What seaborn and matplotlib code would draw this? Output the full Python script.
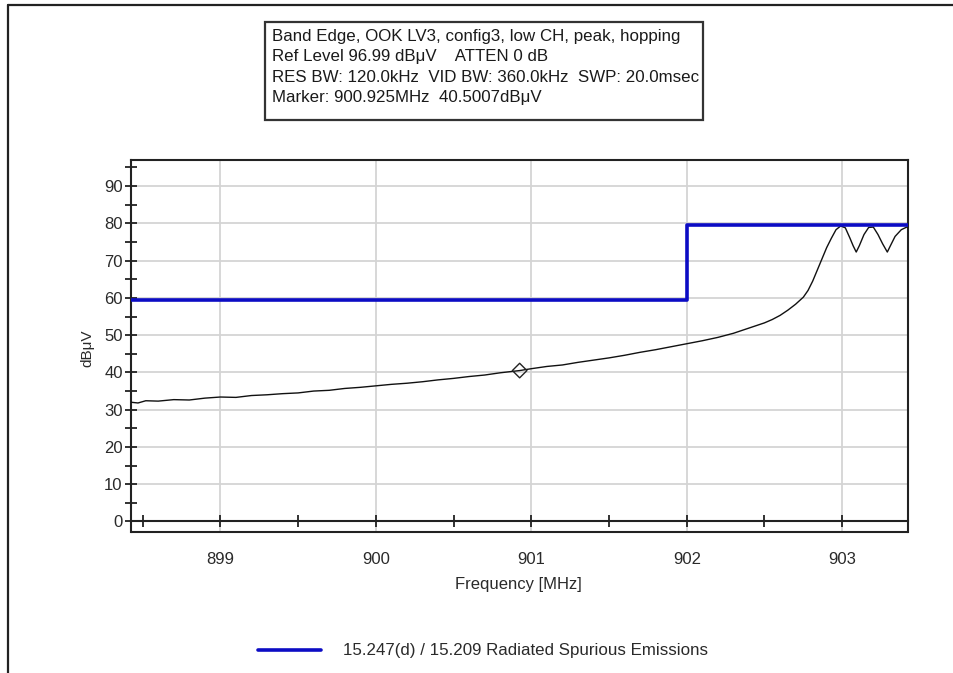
import matplotlib
matplotlib.use("Agg")
import matplotlib.pyplot as plt
import seaborn as sns
import pandas as pd
from matplotlib.ticker import MultipleLocator
from matplotlib.lines import Line2D
from matplotlib.patches import Rectangle

# ---------------- data ----------------
trace_freq = [898.425, 898.47, 898.52, 898.60, 898.70, 898.80, 898.90, 899.00, 899.10, 899.20,
              899.30, 899.40, 899.50, 899.60, 899.70, 899.80, 899.90, 900.00, 900.10, 900.20,
              900.30, 900.40, 900.50, 900.60, 900.70, 900.80, 900.925, 901.00, 901.10, 901.20,
              901.30, 901.40, 901.50, 901.60, 901.70, 901.80, 901.90, 902.00, 902.10, 902.20,
              902.30, 902.40, 902.50, 902.55, 902.60, 902.65, 902.70, 902.75, 902.78, 902.81,
              902.84, 902.87, 902.90, 902.93, 902.96, 902.99, 903.02, 903.05, 903.07, 903.09,
              903.11, 903.14, 903.17, 903.20, 903.23, 903.26, 903.29, 903.31, 903.34, 903.38,
              903.425]
trace_level = [32.0, 31.8, 32.4, 32.3, 32.7, 32.6, 33.1, 33.4, 33.3, 33.8,
               34.0, 34.3, 34.5, 35.0, 35.2, 35.7, 36.0, 36.4, 36.8, 37.1,
               37.5, 38.0, 38.4, 38.9, 39.3, 39.9, 40.5, 41.0, 41.6, 42.0,
               42.7, 43.3, 43.9, 44.6, 45.4, 46.1, 46.9, 47.7, 48.5, 49.4,
               50.5, 51.9, 53.3, 54.2, 55.3, 56.7, 58.3, 60.2, 62.0, 64.5,
               67.5, 70.5, 73.5, 76.0, 78.3, 79.3, 78.8, 76.0, 74.0, 72.3,
               74.0, 77.0, 78.9, 79.0, 77.0, 74.5, 72.3, 74.0, 76.5, 78.3,
               79.2]

limit_freq = [898.425, 902.0, 903.425]
limit_level = [59.5, 79.5, 79.5]
limit_label = "15.247(d) / 15.209 Radiated Spurious Emissions"

marker_freq = [900.925]
marker_level = [40.5]

x_major_ticks = [899, 900, 901, 902, 903]
y_major_ticks = [0, 10, 20, 30, 40, 50, 60, 70, 80, 90]

info_lines = [
    "Band Edge, OOK LV3, config3, low CH, peak, hopping",
    "Ref Level 96.99 dB\u03bcV    ATTEN 0 dB",
    "RES BW: 120.0kHz  VID BW: 360.0kHz  SWP: 20.0msec",
    "Marker: 900.925MHz  40.5007dB\u03bcV",
]

# ---------------- style ----------------
sns.set_style("white")
plt.rcParams["font.family"] = ["Liberation Sans", "DejaVu Sans"]

W, H = 954, 673
fig = plt.figure(figsize=(W / 100, H / 100), dpi=100)
L, R, T, B = 131, 908.3, 160, 532.3
ax = fig.add_axes([L / W, 1 - B / H, (R - L) / W, (B - T) / H])

trace_df = pd.DataFrame({"freq": trace_freq, "level": trace_level})
limit_df = pd.DataFrame({"freq": limit_freq, "level": limit_level})

sns.lineplot(data=trace_df, x="freq", y="level", color="#111111", lw=1.0,
             estimator=None, sort=False, ax=ax, zorder=3)
sns.lineplot(data=limit_df, x="freq", y="level", color="#0c0cc4", lw=2.6,
             drawstyle="steps-post", estimator=None, sort=False, ax=ax,
             label=limit_label, zorder=4)
ax.scatter(marker_freq, marker_level, marker="D", s=55, facecolors="none",
           edgecolors="#222222", linewidths=1.0, zorder=6)

ax.set_xlim(898.425, 903.425)
ax.set_ylim(-2.9, 97.0)

ax.xaxis.set_major_locator(plt.FixedLocator(x_major_ticks))
ax.xaxis.set_minor_locator(MultipleLocator(0.5))
ax.yaxis.set_major_locator(plt.FixedLocator(y_major_ticks))
ax.yaxis.set_minor_locator(MultipleLocator(5))

ax.grid(True, which="major", color="#d4d4d4", lw=1.3, zorder=0)
ax.set_axisbelow(True)

for s in ax.spines.values():
    s.set_color("#222222")
    s.set_linewidth(1.5)
ax.spines["bottom"].set_position(("data", 0))
ax.plot([0, 1], [0, 0], transform=ax.transAxes, color="#222222", lw=1.5,
        clip_on=False, zorder=7)

ax.tick_params(axis="both", which="both", direction="inout", color="#222222",
               width=1.3, labelsize=12, labelcolor="#2a2a2a",
               bottom=True, left=True, top=False, right=False)
ax.tick_params(axis="x", which="both", length=8, pad=18)
ax.tick_params(axis="y", which="both", length=8, pad=2)

ax.set_xlabel("")
ax.set_ylabel("")
fig.text(518 / W, 1 - 585 / H, "Frequency [MHz]", ha="center", va="center",
         fontsize=12, color="#2a2a2a")
fig.text(87 / W, 1 - 348 / H, "dB\u03bcV", ha="center", va="center",
         rotation=90, fontsize=11, color="#2a2a2a")

# info box
fig.add_artist(Rectangle((265 / W, 1 - 120 / H), 438 / W, 98 / H,
                         transform=fig.transFigure, facecolor="white",
                         edgecolor="#333333", lw=1.6, zorder=5))
fig.text(272 / W, 1 - 29 / H, "\n".join(info_lines), ha="left", va="top",
         fontsize=12.2, linespacing=1.44, color="#1a1a1a", zorder=6)

# legend
handles, labels = ax.get_legend_handles_labels()
if ax.get_legend() is not None:
    ax.get_legend().remove()
fig.legend(handles, labels, loc="center", bbox_to_anchor=(483 / W, 1 - 651 / H),
           frameon=False, handlelength=3.7, handletextpad=1.3, fontsize=12.2,
           labelcolor="#2a2a2a")

# outer frame lines (top and left)
fig.add_artist(Line2D([8 / W, 1], [1 - 5 / H, 1 - 5 / H], transform=fig.transFigure,
                      color="#222222", lw=1.6))
fig.add_artist(Line2D([8 / W, 8 / W], [0, 1 - 5 / H], transform=fig.transFigure,
                      color="#222222", lw=1.6))

fig.savefig("out.png", dpi=100)
